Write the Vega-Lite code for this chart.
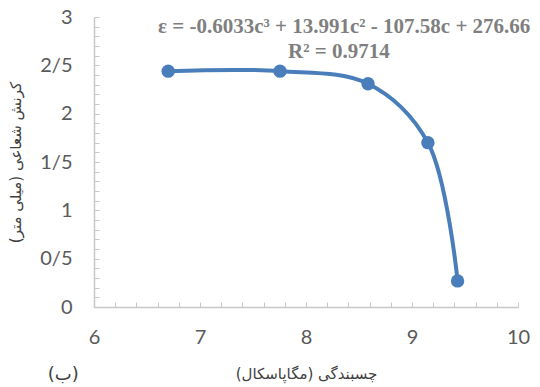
{
  "$schema": "https://vega.github.io/schema/vega-lite/v6.json",
  "autosize": {"type": "none"},
  "padding": {"left": 94, "top": 17, "right": 22, "bottom": 80},
  "width": 424,
  "height": 290,
  "background": "white",
  "config": {"view": {"stroke": null}},
  "datasets": {
    "pts": [
      {"c": 6.70, "e": 2.44},
      {"c": 7.755, "e": 2.44},
      {"c": 8.585, "e": 2.31},
      {"c": 9.15, "e": 1.70},
      {"c": 9.43, "e": 0.27}
    ],
    "notes": [
      {"c": 8.36, "e": 2.895, "t": "ε = -0.6033c³ + 13.991c² - 107.58c + 276.66"},
      {"c": 8.31, "e": 2.635, "t": "R² = 0.9714"}
    ],
    "tag": [{"c": 5.71, "e": -0.70, "t": "(ب)"}]
  },
  "encoding": {
    "x": {
      "field": "c", "type": "quantitative",
      "scale": {"domain": [6, 10], "nice": false, "zero": false},
      "axis": {
        "values": [6, 6.2, 6.4, 6.6, 6.8, 7, 7.2, 7.4, 7.6, 7.8, 8, 8.2, 8.4, 8.6, 8.8, 9, 9.2, 9.4, 9.6, 9.8, 10],
        "labelExpr": "abs(datum.value - round(datum.value)) < 0.001 ? format(datum.value, 'd') : ''",
        "labelOverlap": false, "labelFlush": false,
        "grid": false, "domainColor": "#c8c8c8", "domainWidth": 1.5, "tickColor": "#c8c8c8", "tickSize": -5,
        "labelFont": "Lato", "labelFontSize": 20, "labelColor": "#595959", "labelPadding": 25,
        "title": "چسبندگی (مگاپاسکال)", "titleFont": "DejaVu Sans", "titleFontSize": 15, "titleFontWeight": "normal",
        "titleColor": "#404040", "titlePadding": 19
      }
    },
    "y": {
      "field": "e", "type": "quantitative",
      "scale": {"domain": [0, 3], "nice": false},
      "axis": {
        "values": [0, 0.1, 0.2, 0.3, 0.4, 0.5, 0.6, 0.7, 0.8, 0.9, 1, 1.1, 1.2, 1.3, 1.4, 1.5, 1.6, 1.7, 1.8, 1.9, 2, 2.1, 2.2, 2.3, 2.4, 2.5, 2.6, 2.7, 2.8, 2.9, 3],
        "labelExpr": "abs(datum.value*2 - round(datum.value*2)) < 0.001 ? replace(format(datum.value, '~g'), '.', '/') : ''",
        "labelOverlap": false, "labelFlush": false,
        "grid": false, "domainColor": "#c8c8c8", "domainWidth": 1.5, "tickColor": "#c8c8c8", "tickSize": -5,
        "labelFont": "Lato", "labelFontSize": 20, "labelColor": "#595959", "labelPadding": 27,
        "title": "کرنش شعاعی (میلی متر)", "titleFont": "DejaVu Sans", "titleFontSize": 15, "titleFontWeight": "normal",
        "titleColor": "#404040", "titlePadding": 16
      }
    }
  },
  "layer": [
    {
      "data": {"name": "pts"},
      "mark": {"type": "line", "interpolate": "catmull-rom", "color": "#4a7ebb", "strokeWidth": 4}
    },
    {
      "data": {"name": "pts"},
      "mark": {"type": "point", "shape": "circle", "filled": true, "opacity": 1, "color": "#4a7ebb", "size": 180}
    },
    {
      "data": {"name": "notes"},
      "mark": {"type": "text", "font": "Liberation Serif", "fontWeight": "bold", "fontSize": 21, "color": "#7f7f7f", "clip": false},
      "encoding": {"text": {"field": "t"}}
    },
    {
      "data": {"name": "tag"},
      "mark": {"type": "text", "font": "DejaVu Sans", "fontSize": 18, "color": "#404040", "clip": false},
      "encoding": {"text": {"field": "t"}}
    }
  ]
}
